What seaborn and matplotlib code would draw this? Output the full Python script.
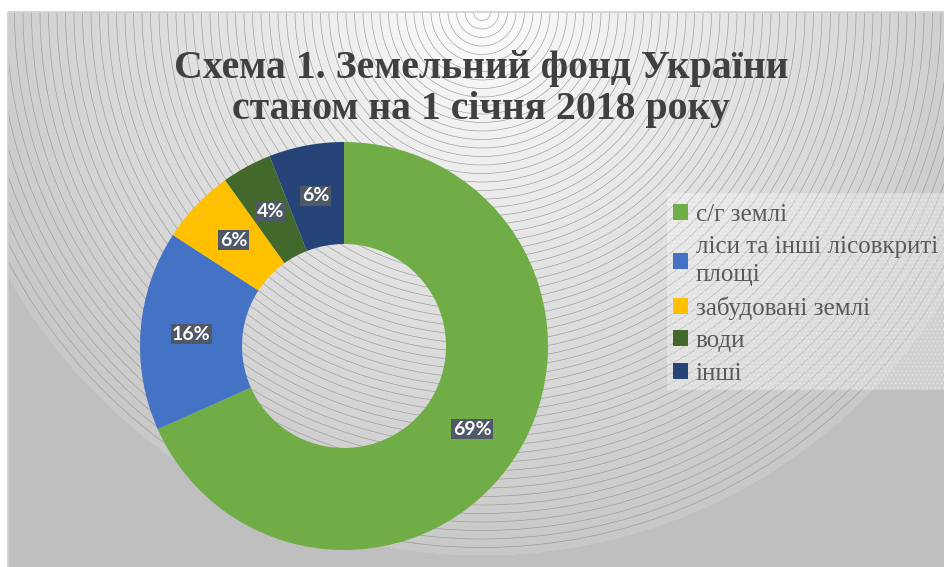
import numpy as np
import matplotlib
matplotlib.use("Agg")
import matplotlib.pyplot as plt
from matplotlib.patches import Circle, Rectangle
import seaborn as sns

# Land fund of Ukraine as of 1 January 2018, share of total area (%)
categories = ["с/г землі", "ліси та інші лісовкриті площі", "забудовані землі", "води", "інші"]
legend_labels = ["с/г землі", "ліси та інші лісовкриті\nплощі", "забудовані землі", "води", "інші"]
shares = [69, 16, 6, 4, 6]
slice_colors = ["#70AD47", "#4472C4", "#FFC000", "#43682B", "#264478"]

title_text = "Схема 1. Земельний фонд України\nстаном на 1 січня 2018 року"

sns.set_theme(style="white")
palette = sns.color_palette(slice_colors)

W, H = 944, 567
fig = plt.figure(figsize=(W / 100, H / 100), dpi=100)
fig.patch.set_facecolor("white")

# ---- background panel: radial gradient with concentric rings ----
bg = fig.add_axes([0, 0, 1, 1])
bg.set_xlim(0, W)
bg.set_ylim(H, 0)
bg.axis("off")

panel_x0, panel_y0 = 8, 12
cx, cy, rmax = 482, 12, 543
yy, xx = np.mgrid[panel_y0:H, panel_x0:W]
dist = np.hypot(xx - cx, yy - cy)
shade = np.where(dist <= rmax, 253 - dist * (253 - 200) / rmax, 191) / 255.0
bg.imshow(np.dstack([shade, shade, shade]), extent=(panel_x0, W, H, panel_y0),
          interpolation="bilinear", zorder=0)

panel = Rectangle((panel_x0, panel_y0), W - panel_x0 + 2, H - panel_y0 + 2,
                  fill=False, ec="#d0d0d0", lw=1.2, zorder=3)
bg.add_patch(panel)
clip_rect = Rectangle((panel_x0, panel_y0), W - panel_x0, H - panel_y0,
                      transform=bg.transData, fill=False, lw=0)
for r in np.arange(8.5, rmax + 1, 8.5):
    ring = Circle((cx, cy), r, fill=False, ec="#9a9a9a", lw=0.45, zorder=1)
    bg.add_patch(ring)
    ring.set_clip_path(clip_rect)

# legend panel
plt.rcParams["hatch.linewidth"] = 0.6
legend_box = Rectangle((667, 193), W - 667, 197, fc=(1, 1, 1, 0.28),
                       ec=(1, 1, 1, 0.35), hatch="....", lw=0, zorder=2)
bg.add_patch(legend_box)

# ---- donut ----
pcx, pcy, R = 344, 346, 204
ax = fig.add_axes([(pcx - R) / W, (H - pcy - R) / H, 2 * R / W, 2 * R / H])
ax.patch.set_alpha(0)
ring_width = 0.5
wedges, _ = ax.pie(shares, colors=palette, startangle=90, counterclock=False,
                   radius=1, wedgeprops=dict(width=ring_width, linewidth=0))
ax.set_xlim(-1, 1)
ax.set_ylim(-1, 1)
ax.set_aspect("equal")
ax.axis("off")

total = sum(shares)
mid_r = 1 - ring_width / 2
cum = 0
for val in shares:
    mid = (cum + val / 2) / total
    ang = np.deg2rad(90 - 360 * mid)
    ax.text(mid_r * np.cos(ang), mid_r * np.sin(ang), f"{val}%",
            ha="center", va="center", color="white", fontsize=14,
            fontweight="bold", family=["Lato", "DejaVu Sans"],
            bbox=dict(boxstyle="square,pad=0.08", fc="#4f5866", ec="none"))
    cum += val

# ---- title ----
fig.text(481 / W, 1 - 89 / H, title_text, ha="center", va="center",
         fontsize=28.6, fontweight="bold", color="#404040",
         family=["Liberation Serif", "DejaVu Serif"], linespacing=1.15)

# ---- legend ----
leg = fig.legend(wedges, legend_labels, loc="upper left",
                 bbox_to_anchor=(668 / W, 1 - 199 / H), frameon=False,
                 prop=dict(family=["Liberation Serif", "DejaVu Serif"], size=18),
                 labelcolor="#595959", handlelength=0.6, handleheight=0.6,
                 handletextpad=0.3, labelspacing=0.42, borderpad=0.2,
                 borderaxespad=0)
for t in leg.get_texts():
    t.set_linespacing(1.3)

fig.savefig("out.png", dpi=100)
